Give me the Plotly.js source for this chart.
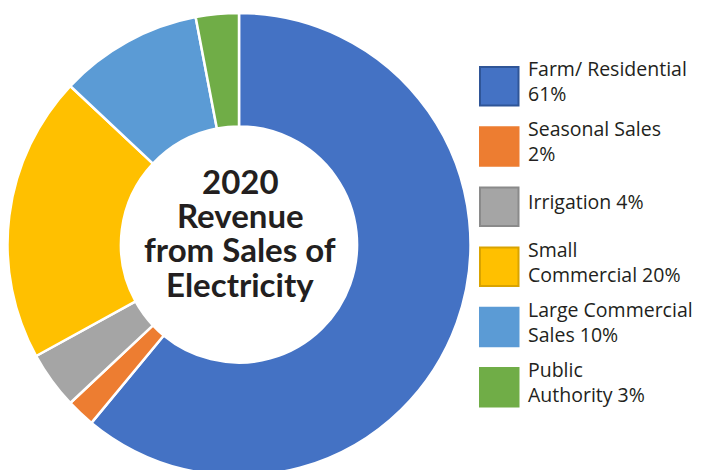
<!DOCTYPE html>
<html>
<head>
<meta charset="utf-8">
<script src="https://cdn.plot.ly/plotly-3.0.1.min.js"></script>
<style>
html,body{margin:0;padding:0;overflow:hidden;background:#fff;}
#chart{width:705px;height:476px;}
</style>
</head>
<body>
<div id="chart"></div>
<script>
// ---- data ----
var categories = ["Farm/ Residential", "Seasonal Sales", "Irrigation", "Small Commercial", "Large Commercial Sales", "Public Authority"];
var values = [61, 2, 4, 20, 10, 3];
var legendLabels = ["Farm/ Residential<br>61%", "Seasonal Sales<br>2%", "Irrigation 4%", "Small<br>Commercial 20%", "Large Commercial<br>Sales 10%", "Public<br>Authority 3%"];
var centerLines = ["2020", "Revenue", "from Sales of", "Electricity"];

// ---- styles ----
var colors = ["#4472C4", "#ED7D31", "#A5A5A5", "#FFC000", "#5B9BD5", "#70AD47"];
var borderColors = ["#2F5597", "#ED7D31", "#8A8A8A", "#D9A300", "#5B9BD5", "#70AD47"];
var W = 705, H = 476, MT = 13;
var textColor = "#231F20";
var titleFont = "Lato, 'Open Sans', sans-serif";
var legFont = "'Open Sans', Lato, sans-serif";

function px(x) { return x / W; }
function py(y) { return 1 - (y - MT) / (H - MT); }

var trace = {
  type: "pie",
  labels: categories,
  values: values,
  hole: 0.51,
  sort: false,
  direction: "clockwise",
  rotation: 0,
  textinfo: "none",
  hoverinfo: "label+percent",
  marker: {colors: colors, line: {color: "#ffffff", width: 2.5}},
  domain: {x: [px(7.5), px(470.5)], y: [0, 1]},
  showlegend: false
};

var shapes = [];
var annotations = [];

// legend (built from category arrays)
var legX0 = 480, sq = 38.5, legY0 = 67, legStep = 60.2;
for (var i = 0; i < categories.length; i++) {
  var itemTop = legY0 + i * legStep;
  shapes.push({
    type: "rect", xref: "paper", yref: "paper",
    x0: px(legX0), x1: px(legX0 + sq),
    y0: py(itemTop + sq), y1: py(itemTop),
    fillcolor: colors[i], line: {color: borderColors[i], width: 2}
  });
  annotations.push({
    xref: "paper", yref: "paper",
    x: px(526), y: py(itemTop + sq / 2 - 5),
    xanchor: "left", yanchor: "middle", align: "left",
    text: legendLabels[i], showarrow: false,
    font: {family: legFont, size: 19.5, color: textColor}
  });
}

// center title
var centerYs = [181, 215, 249, 284];
for (var j = 0; j < centerLines.length; j++) {
  annotations.push({
    xref: "paper", yref: "paper",
    x: px(240), y: py(centerYs[j]),
    xanchor: "center", yanchor: "middle",
    text: "<b>" + centerLines[j] + "</b>", showarrow: false,
    font: {family: titleFont, size: 33, color: textColor}
  });
}

var layout = {
  width: W, height: H,
  margin: {l: 0, r: 0, t: MT, b: 0},
  paper_bgcolor: "#ffffff",
  showlegend: false,
  shapes: shapes,
  annotations: annotations
};

Plotly.newPlot("chart", [trace], layout, {displayModeBar: false, staticPlot: true});
</script>
</body>
</html>
